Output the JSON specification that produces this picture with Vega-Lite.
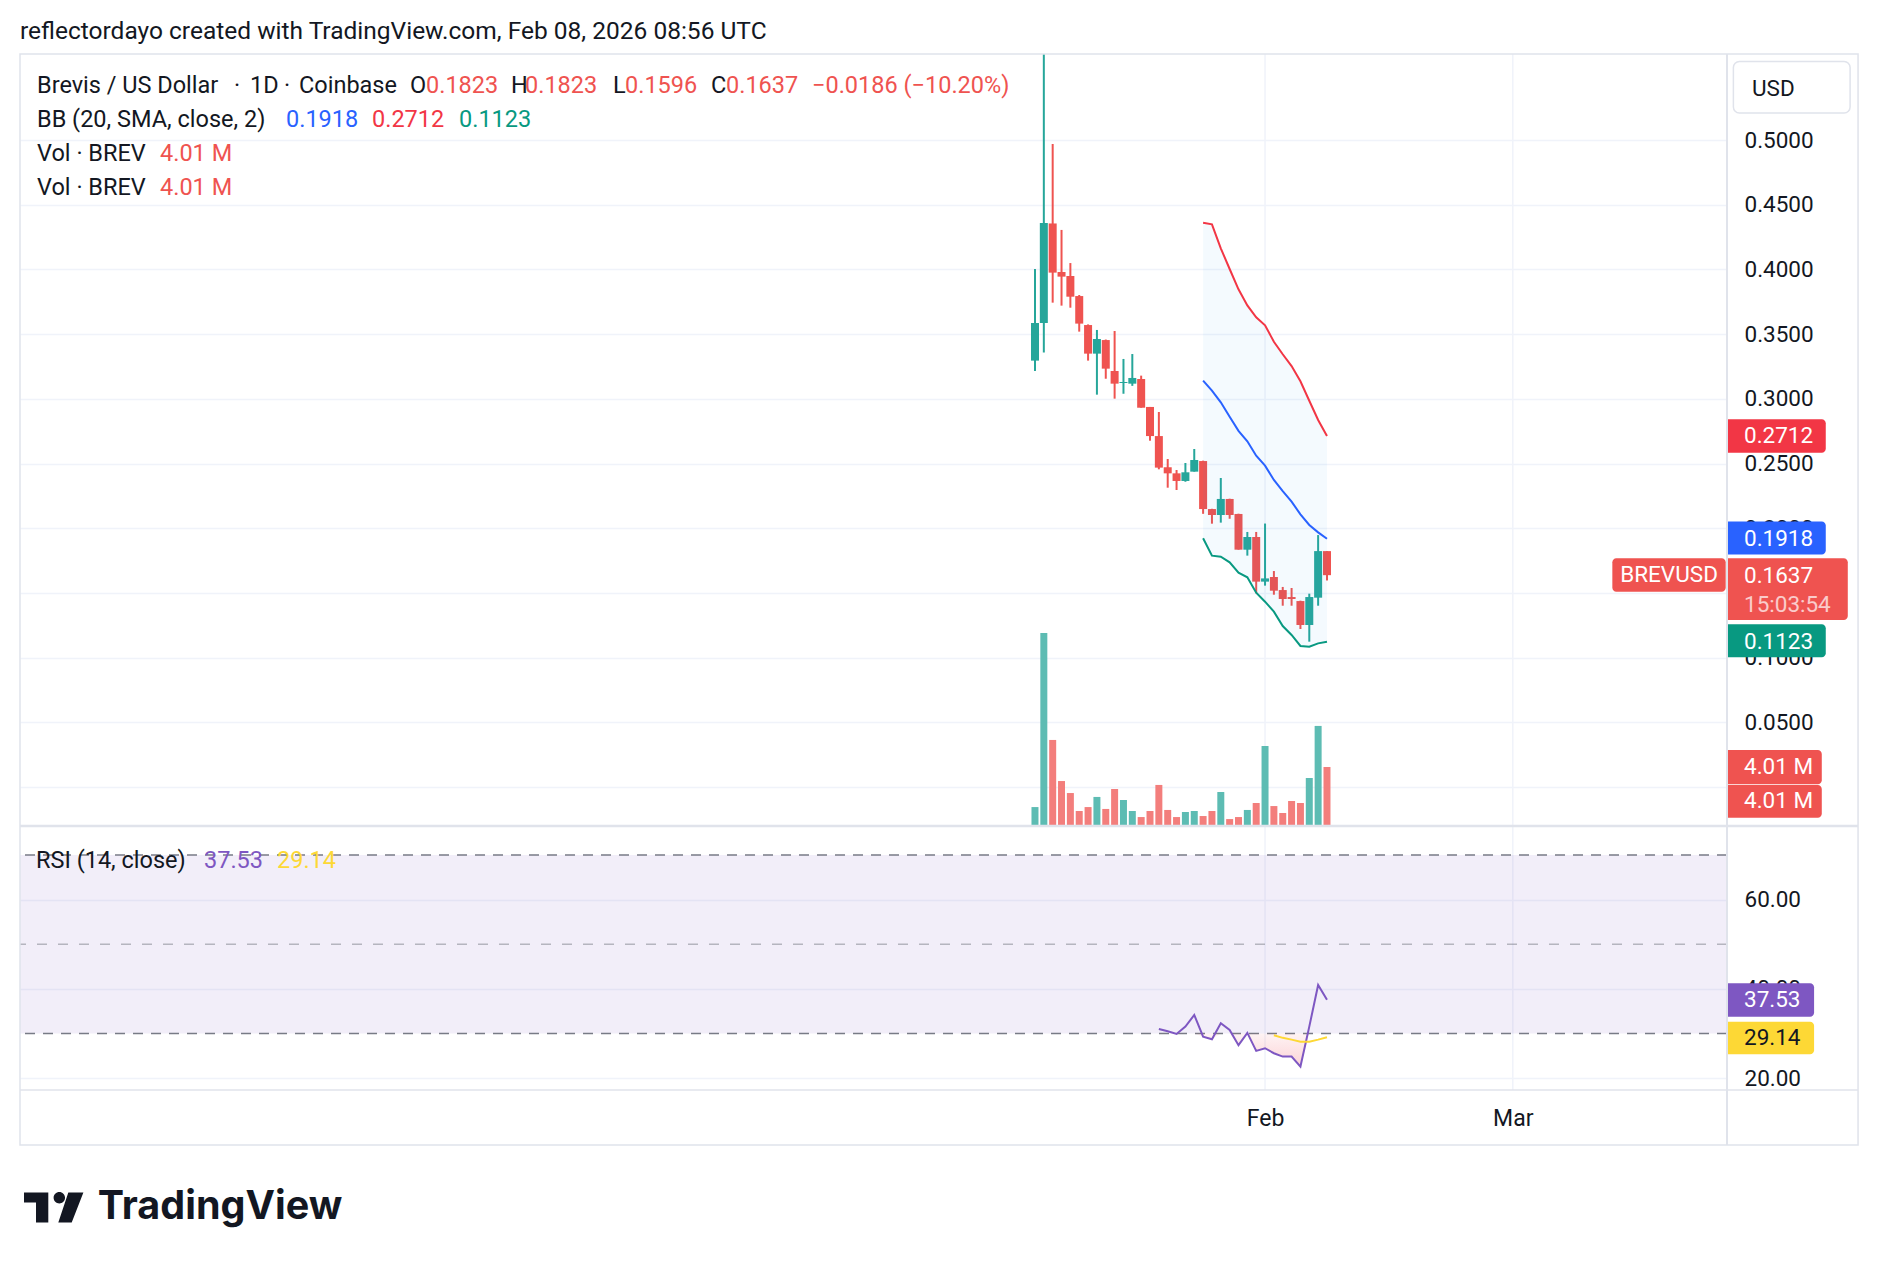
{
  "$schema": "https://vega.github.io/schema/vega-lite/v6.json",
  "width": 1707,
  "height": 1036,
  "autosize": "none",
  "padding": {"left": 20, "top": 54, "right": 151, "bottom": 176},
  "background": "#ffffff",
  "config": {
    "font": "Roboto",
    "view": {"stroke": null},
    "axis": {"domain": false, "ticks": false, "gridColor": "#F0F3FA", "gridWidth": 1.5, "labelColor": "#131722", "labelFontSize": 22.5, "labelFont": "Roboto", "labelOverlap": false},
    "text": {"font": "Roboto"}
  },
  "datasets": {
    "ohlc": [
      {"d": "2026-01-06", "o": 0.3295, "h": 0.4003, "l": 0.3215, "c": 0.3586, "v": 1.24},
      {"d": "2026-01-07", "o": 0.3586, "h": 0.58, "l": 0.3357, "c": 0.4359, "v": 13.27},
      {"d": "2026-01-08", "o": 0.4355, "h": 0.4969, "l": 0.3743, "c": 0.3975, "v": 5.88},
      {"d": "2026-01-09", "o": 0.398, "h": 0.4305, "l": 0.372, "c": 0.3944, "v": 3.04},
      {"d": "2026-01-10", "o": 0.3949, "h": 0.4049, "l": 0.3704, "c": 0.3789, "v": 2.21},
      {"d": "2026-01-11", "o": 0.3794, "h": 0.3802, "l": 0.3519, "c": 0.3581, "v": 0.97},
      {"d": "2026-01-12", "o": 0.357, "h": 0.3575, "l": 0.3295, "c": 0.3349, "v": 1.24},
      {"d": "2026-01-13", "o": 0.3349, "h": 0.3532, "l": 0.3032, "c": 0.3462, "v": 1.94},
      {"d": "2026-01-14", "o": 0.3454, "h": 0.3458, "l": 0.3155, "c": 0.3233, "v": 1.11},
      {"d": "2026-01-15", "o": 0.3215, "h": 0.3524, "l": 0.3001, "c": 0.3117, "v": 2.49},
      {"d": "2026-01-16", "o": 0.3122, "h": 0.3308, "l": 0.3039, "c": 0.313, "v": 1.73},
      {"d": "2026-01-17", "o": 0.3117, "h": 0.3346, "l": 0.31, "c": 0.3161, "v": 0.97},
      {"d": "2026-01-18", "o": 0.3153, "h": 0.3179, "l": 0.2931, "c": 0.2931, "v": 0.55},
      {"d": "2026-01-19", "o": 0.2937, "h": 0.2937, "l": 0.2676, "c": 0.2712, "v": 0.97},
      {"d": "2026-01-20", "o": 0.2712, "h": 0.2898, "l": 0.2455, "c": 0.2468, "v": 2.77},
      {"d": "2026-01-21", "o": 0.2471, "h": 0.2535, "l": 0.2313, "c": 0.2424, "v": 1.04},
      {"d": "2026-01-22", "o": 0.2424, "h": 0.245, "l": 0.2295, "c": 0.2365, "v": 0.55},
      {"d": "2026-01-23", "o": 0.2365, "h": 0.2504, "l": 0.2359, "c": 0.2432, "v": 0.9},
      {"d": "2026-01-24", "o": 0.2437, "h": 0.2612, "l": 0.2437, "c": 0.2527, "v": 0.97},
      {"d": "2026-01-25", "o": 0.2519, "h": 0.2522, "l": 0.2111, "c": 0.2148, "v": 0.62},
      {"d": "2026-01-26", "o": 0.2148, "h": 0.215, "l": 0.2035, "c": 0.2102, "v": 0.97},
      {"d": "2026-01-27", "o": 0.2102, "h": 0.2388, "l": 0.2043, "c": 0.2226, "v": 2.28},
      {"d": "2026-01-28", "o": 0.2226, "h": 0.2228, "l": 0.2073, "c": 0.2102, "v": 0.41},
      {"d": "2026-01-29", "o": 0.211, "h": 0.2112, "l": 0.1834, "c": 0.1834, "v": 0.55},
      {"d": "2026-01-30", "o": 0.1834, "h": 0.1971, "l": 0.1788, "c": 0.1932, "v": 1.04},
      {"d": "2026-01-31", "o": 0.1932, "h": 0.1971, "l": 0.1497, "c": 0.1587, "v": 1.52},
      {"d": "2026-02-01", "o": 0.1587, "h": 0.2036, "l": 0.1556, "c": 0.1612, "v": 5.46},
      {"d": "2026-02-02", "o": 0.1623, "h": 0.1669, "l": 0.1486, "c": 0.1517, "v": 1.31},
      {"d": "2026-02-03", "o": 0.1522, "h": 0.1546, "l": 0.1401, "c": 0.1453, "v": 0.83},
      {"d": "2026-02-04", "o": 0.1468, "h": 0.1538, "l": 0.1401, "c": 0.1453, "v": 1.66},
      {"d": "2026-02-05", "o": 0.1437, "h": 0.144, "l": 0.1221, "c": 0.1252, "v": 1.52},
      {"d": "2026-02-06", "o": 0.1252, "h": 0.1494, "l": 0.1123, "c": 0.1468, "v": 3.25},
      {"d": "2026-02-07", "o": 0.1463, "h": 0.1947, "l": 0.1401, "c": 0.1823, "v": 6.85},
      {"d": "2026-02-08", "o": 0.1823, "h": 0.1823, "l": 0.1596, "c": 0.1637, "v": 4.01}
    ],
    "bb": [
      {"d": "2026-01-25", "up": 0.4361, "mid": 0.314, "lo": 0.1922},
      {"d": "2026-01-26", "up": 0.4348, "mid": 0.3063, "lo": 0.1788},
      {"d": "2026-01-27", "up": 0.4163, "mid": 0.2973, "lo": 0.178},
      {"d": "2026-01-28", "up": 0.4003, "mid": 0.2862, "lo": 0.1736},
      {"d": "2026-01-29", "up": 0.3846, "mid": 0.2752, "lo": 0.1656},
      {"d": "2026-01-30", "up": 0.3722, "mid": 0.2672, "lo": 0.162},
      {"d": "2026-01-31", "up": 0.363, "mid": 0.256, "lo": 0.1502},
      {"d": "2026-02-01", "up": 0.3568, "mid": 0.2483, "lo": 0.1432},
      {"d": "2026-02-02", "up": 0.3441, "mid": 0.2373, "lo": 0.1355},
      {"d": "2026-02-03", "up": 0.3344, "mid": 0.2287, "lo": 0.1244},
      {"d": "2026-02-04", "up": 0.3253, "mid": 0.2205, "lo": 0.1175},
      {"d": "2026-02-05", "up": 0.3135, "mid": 0.2107, "lo": 0.109},
      {"d": "2026-02-06", "up": 0.2985, "mid": 0.2025, "lo": 0.1084},
      {"d": "2026-02-07", "up": 0.2836, "mid": 0.1968, "lo": 0.111},
      {"d": "2026-02-08", "up": 0.2712, "mid": 0.1918, "lo": 0.1123}
    ],
    "rsi": [
      {"d": "2026-01-20", "rsi": 31.0, "os": 30},
      {"d": "2026-01-21", "rsi": 30.48, "os": 30},
      {"d": "2026-01-22", "rsi": 29.88, "os": 29.88},
      {"d": "2026-01-23", "rsi": 31.51, "os": 30},
      {"d": "2026-01-24", "rsi": 34.13, "os": 30},
      {"d": "2026-01-25", "rsi": 29.27, "os": 29.27},
      {"d": "2026-01-26", "rsi": 28.69, "os": 28.69},
      {"d": "2026-01-27", "rsi": 32.27, "os": 30},
      {"d": "2026-01-28", "rsi": 30.77, "os": 30},
      {"d": "2026-01-29", "rsi": 27.35, "os": 27.35},
      {"d": "2026-01-30", "rsi": 30.1, "os": 30},
      {"d": "2026-01-31", "rsi": 26.07, "os": 26.07},
      {"d": "2026-02-01", "rsi": 26.67, "os": 26.67},
      {"d": "2026-02-02", "rsi": 25.55, "os": 25.55, "ma": 29.59},
      {"d": "2026-02-03", "rsi": 24.8, "os": 24.8, "ma": 29.0},
      {"d": "2026-02-04", "rsi": 24.8, "os": 24.8, "ma": 28.6},
      {"d": "2026-02-05", "rsi": 22.56, "os": 22.56, "ma": 28.15},
      {"d": "2026-02-06", "rsi": 31.51, "os": 30, "ma": 28.15},
      {"d": "2026-02-07", "rsi": 40.85, "os": 30, "ma": 28.6},
      {"d": "2026-02-08", "rsi": 37.53, "os": 30, "ma": 29.14}
    ]
  },
  "layer": [
    {
      "layer": [
        {
          "data": {"values": [{}]},
          "layer": [
            {"mark": {"type": "rule", "color": "#F0F3FA", "strokeWidth": 1.5},
             "encoding": {"x": {"datum": {"year": 2026, "month": 2, "date": 1, "utc": true}, "type": "temporal"}}},
            {"mark": {"type": "rule", "color": "#F0F3FA", "strokeWidth": 1.5},
             "encoding": {"x": {"datum": {"year": 2026, "month": 3, "date": 1, "utc": true}, "type": "temporal"}}}
          ]
        },
        {
          "data": {"name": "ohlc"},
          "mark": {"type": "bar", "width": 7},
          "encoding": {
            "x": {"field": "d", "type": "temporal", "title": null,
              "scale": {"type": "utc", "nice": false, "padding": 0, "domain": [{"year": 2025, "month": 9, "date": 13, "hours": 7, "utc": true}, {"year": 2026, "month": 3, "date": 25, "hours": 5, "utc": true}]},
              "axis": {"values": [{"year": 2026, "month": 2, "date": 1, "utc": true}, {"year": 2026, "month": 3, "date": 1, "utc": true}], "labelExpr": "utcFormat(datum.value, '%b')", "grid": false, "labelPadding": 28, "labelBaseline": "middle", "labelFontSize": 23, "title": null}},
            "y": {"field": "v", "type": "quantitative", "title": null, "scale": {"domain": [0, 4.01], "range": [771, 713], "zero": false, "nice": false}, "axis": null},
            "color": {"condition": {"test": "datum.c >= datum.o", "value": "#5DBCB3"}, "value": "#F37E7C"}
          }
        },
        {
          "data": {"values": [{}]},
          "layer": [
            {"mark": {"type": "rect", "color": "#EF5350", "cornerRadiusTopRight": 4, "cornerRadiusBottomRight": 4},
             "encoding": {"x": {"datum": {"year": 2026, "month": 3, "date": 25, "hours": 5, "utc": true}, "type": "temporal"}, "x2": {"datum": {"year": 2026, "month": 4, "date": 4, "hours": 22, "minutes": 5, "utc": true}}, "y": {"datum": 5.185, "type": "quantitative"}, "y2": {"datum": 2.814}}},
            {"mark": {"type": "rect", "color": "#EF5350", "cornerRadiusTopRight": 4, "cornerRadiusBottomRight": 4},
             "encoding": {"x": {"datum": {"year": 2026, "month": 3, "date": 25, "hours": 5, "utc": true}, "type": "temporal"}, "x2": {"datum": {"year": 2026, "month": 4, "date": 4, "hours": 22, "minutes": 5, "utc": true}}, "y": {"datum": 2.766, "type": "quantitative"}, "y2": {"datum": 0.505}}},
            {"mark": {"type": "text", "text": "4.01 M", "color": "#ffffff", "align": "left", "baseline": "middle", "dx": 17, "fontSize": 22.5},
             "encoding": {"x": {"datum": {"year": 2026, "month": 3, "date": 25, "hours": 5, "utc": true}, "type": "temporal"}, "y": {"datum": 4.01, "type": "quantitative"}}},
            {"mark": {"type": "text", "text": "4.01 M", "color": "#ffffff", "align": "left", "baseline": "middle", "dx": 17, "fontSize": 22.5},
             "encoding": {"x": {"datum": {"year": 2026, "month": 3, "date": 25, "hours": 5, "utc": true}, "type": "temporal"}, "y": {"datum": 1.639, "type": "quantitative"}}}
          ]
        }
      ]
    },
    {
      "layer": [
        {
          "data": {"name": "ohlc"},
          "layer": [
            {"mark": {"type": "rule", "strokeWidth": 2, "clip": true},
             "encoding": {
               "x": {"field": "d", "type": "temporal", "title": null},
               "y": {"field": "l", "type": "quantitative", "title": null,
                 "scale": {"domain": [0, 0.5], "range": [733, 86], "zero": false, "nice": false},
                 "axis": {"orient": "right", "values": [0, 0.05, 0.1, 0.15, 0.2, 0.25, 0.3, 0.35, 0.4, 0.45, 0.5, 0.55], "format": ".4f", "labelPadding": 17, "labelAlign": "left", "grid": true, "title": null, "labelExpr": "datum.value < 0.01 || datum.value > 0.52 ? '' : datum.label"}},
               "y2": {"field": "h"},
               "color": {"condition": {"test": "datum.c >= datum.o", "value": "#26A69A"}, "value": "#EF5350"}
             }},
            {"mark": {"type": "bar", "width": 8},
             "encoding": {
               "x": {"field": "d", "type": "temporal", "title": null},
               "y": {"field": "o", "type": "quantitative", "title": null},
               "y2": {"field": "c"},
               "color": {"condition": {"test": "datum.c >= datum.o", "value": "#26A69A"}, "value": "#EF5350"}
             }}
          ]
        },
        {
          "data": {"name": "bb"},
          "layer": [
            {"mark": {"type": "area", "color": "#2196F3", "opacity": 0.05},
             "encoding": {"x": {"field": "d", "type": "temporal", "title": null}, "y": {"field": "up", "type": "quantitative", "title": null}, "y2": {"field": "lo"}}},
            {"mark": {"type": "line", "color": "#F23645", "strokeWidth": 2},
             "encoding": {"x": {"field": "d", "type": "temporal", "title": null}, "y": {"field": "up", "type": "quantitative", "title": null}}},
            {"mark": {"type": "line", "color": "#2962FF", "strokeWidth": 2},
             "encoding": {"x": {"field": "d", "type": "temporal", "title": null}, "y": {"field": "mid", "type": "quantitative", "title": null}}},
            {"mark": {"type": "line", "color": "#089981", "strokeWidth": 2},
             "encoding": {"x": {"field": "d", "type": "temporal", "title": null}, "y": {"field": "lo", "type": "quantitative", "title": null}}}
          ]
        },
        {
          "data": {"values": [{}]},
          "encoding": {"x": {"datum": {"year": 2025, "month": 9, "date": 13, "hours": 7, "utc": true}, "type": "temporal"}},
          "layer": [
            {"mark": {"type": "text", "text": "reflectordayo created with TradingView.com, Feb 08, 2026 08:56 UTC", "color": "#131722", "align": "left", "baseline": "middle", "dx": 0, "fontSize": 24.5}, "encoding": {"y": {"datum": 0.5831, "type": "quantitative"}}},
            {"mark": {"type": "text", "text": "Brevis / US Dollar", "color": "#131722", "align": "left", "baseline": "middle", "dx": 17, "fontSize": 23.5}, "encoding": {"y": {"datum": 0.5415, "type": "quantitative"}}},
            {"mark": {"type": "text", "text": "·", "color": "#131722", "align": "left", "baseline": "middle", "dx": 214, "fontSize": 23.5}, "encoding": {"y": {"datum": 0.5415, "type": "quantitative"}}},
            {"mark": {"type": "text", "text": "1D", "color": "#131722", "align": "left", "baseline": "middle", "dx": 230, "fontSize": 23.5}, "encoding": {"y": {"datum": 0.5415, "type": "quantitative"}}},
            {"mark": {"type": "text", "text": "·", "color": "#131722", "align": "left", "baseline": "middle", "dx": 264, "fontSize": 23.5}, "encoding": {"y": {"datum": 0.5415, "type": "quantitative"}}},
            {"mark": {"type": "text", "text": "Coinbase", "color": "#131722", "align": "left", "baseline": "middle", "dx": 279, "fontSize": 23.5}, "encoding": {"y": {"datum": 0.5415, "type": "quantitative"}}},
            {"mark": {"type": "text", "text": "O", "color": "#131722", "align": "left", "baseline": "middle", "dx": 390, "fontSize": 23.5}, "encoding": {"y": {"datum": 0.5415, "type": "quantitative"}}},
            {"mark": {"type": "text", "text": "0.1823", "color": "#EF5350", "align": "left", "baseline": "middle", "dx": 406, "fontSize": 23.5}, "encoding": {"y": {"datum": 0.5415, "type": "quantitative"}}},
            {"mark": {"type": "text", "text": "H", "color": "#131722", "align": "left", "baseline": "middle", "dx": 491, "fontSize": 23.5}, "encoding": {"y": {"datum": 0.5415, "type": "quantitative"}}},
            {"mark": {"type": "text", "text": "0.1823", "color": "#EF5350", "align": "left", "baseline": "middle", "dx": 505, "fontSize": 23.5}, "encoding": {"y": {"datum": 0.5415, "type": "quantitative"}}},
            {"mark": {"type": "text", "text": "L", "color": "#131722", "align": "left", "baseline": "middle", "dx": 593, "fontSize": 23.5}, "encoding": {"y": {"datum": 0.5415, "type": "quantitative"}}},
            {"mark": {"type": "text", "text": "0.1596", "color": "#EF5350", "align": "left", "baseline": "middle", "dx": 605, "fontSize": 23.5}, "encoding": {"y": {"datum": 0.5415, "type": "quantitative"}}},
            {"mark": {"type": "text", "text": "C", "color": "#131722", "align": "left", "baseline": "middle", "dx": 691, "fontSize": 23.5}, "encoding": {"y": {"datum": 0.5415, "type": "quantitative"}}},
            {"mark": {"type": "text", "text": "0.1637", "color": "#EF5350", "align": "left", "baseline": "middle", "dx": 706, "fontSize": 23.5}, "encoding": {"y": {"datum": 0.5415, "type": "quantitative"}}},
            {"mark": {"type": "text", "text": "−0.0186 (−10.20%)", "color": "#EF5350", "align": "left", "baseline": "middle", "dx": 792, "fontSize": 23.5}, "encoding": {"y": {"datum": 0.5415, "type": "quantitative"}}},
            {"mark": {"type": "text", "text": "BB (20, SMA, close, 2)", "color": "#131722", "align": "left", "baseline": "middle", "dx": 17, "fontSize": 23.5}, "encoding": {"y": {"datum": 0.5156, "type": "quantitative"}}},
            {"mark": {"type": "text", "text": "0.1918", "color": "#2962FF", "align": "left", "baseline": "middle", "dx": 266, "fontSize": 23.5}, "encoding": {"y": {"datum": 0.5156, "type": "quantitative"}}},
            {"mark": {"type": "text", "text": "0.2712", "color": "#F23645", "align": "left", "baseline": "middle", "dx": 352, "fontSize": 23.5}, "encoding": {"y": {"datum": 0.5156, "type": "quantitative"}}},
            {"mark": {"type": "text", "text": "0.1123", "color": "#089981", "align": "left", "baseline": "middle", "dx": 439, "fontSize": 23.5}, "encoding": {"y": {"datum": 0.5156, "type": "quantitative"}}},
            {"mark": {"type": "text", "text": "Vol · BREV", "color": "#131722", "align": "left", "baseline": "middle", "dx": 17, "fontSize": 23.5}, "encoding": {"y": {"datum": 0.4888, "type": "quantitative"}}},
            {"mark": {"type": "text", "text": "4.01 M", "color": "#EF5350", "align": "left", "baseline": "middle", "dx": 140, "fontSize": 23.5}, "encoding": {"y": {"datum": 0.4888, "type": "quantitative"}}},
            {"mark": {"type": "text", "text": "Vol · BREV", "color": "#131722", "align": "left", "baseline": "middle", "dx": 17, "fontSize": 23.5}, "encoding": {"y": {"datum": 0.4629, "type": "quantitative"}}},
            {"mark": {"type": "text", "text": "4.01 M", "color": "#EF5350", "align": "left", "baseline": "middle", "dx": 140, "fontSize": 23.5}, "encoding": {"y": {"datum": 0.4629, "type": "quantitative"}}}
          ]
        },
        {
          "data": {"values": [{}]},
          "layer": [
            {"mark": {"type": "rect", "fill": "#ffffff", "stroke": "#E0E3EB", "strokeWidth": 1.5, "cornerRadius": 6},
             "encoding": {"x": {"datum": {"year": 2026, "month": 3, "date": 25, "hours": 22, "minutes": 19, "utc": true}, "type": "temporal"}, "x2": {"datum": {"year": 2026, "month": 4, "date": 8, "hours": 2, "minutes": 53, "utc": true}}, "y": {"datum": 0.5607, "type": "quantitative"}, "y2": {"datum": 0.5208}}},
            {"mark": {"type": "text", "text": "USD", "color": "#131722", "align": "left", "baseline": "middle", "dx": 25, "fontSize": 22.5},
             "encoding": {"x": {"datum": {"year": 2026, "month": 3, "date": 25, "hours": 5, "utc": true}, "type": "temporal"}, "y": {"datum": 0.5393, "type": "quantitative"}}},
            {"mark": {"type": "rect", "color": "#F23645", "cornerRadiusTopRight": 4, "cornerRadiusBottomRight": 4},
             "encoding": {"x": {"datum": {"year": 2026, "month": 3, "date": 25, "hours": 5, "utc": true}, "type": "temporal"}, "x2": {"datum": {"year": 2026, "month": 4, "date": 5, "hours": 8, "minutes": 53, "utc": true}}, "y": {"datum": 0.2842, "type": "quantitative"}, "y2": {"datum": 0.2584}}},
            {"mark": {"type": "text", "text": "0.2712", "color": "#ffffff", "align": "left", "baseline": "middle", "dx": 17, "fontSize": 22.5},
             "encoding": {"x": {"datum": {"year": 2026, "month": 3, "date": 25, "hours": 5, "utc": true}, "type": "temporal"}, "y": {"datum": 0.2712, "type": "quantitative"}}},
            {"mark": {"type": "rect", "color": "#2962FF", "cornerRadiusTopRight": 4, "cornerRadiusBottomRight": 4},
             "encoding": {"x": {"datum": {"year": 2026, "month": 3, "date": 25, "hours": 5, "utc": true}, "type": "temporal"}, "x2": {"datum": {"year": 2026, "month": 4, "date": 5, "hours": 8, "minutes": 53, "utc": true}}, "y": {"datum": 0.2052, "type": "quantitative"}, "y2": {"datum": 0.1797}}},
            {"mark": {"type": "text", "text": "0.1918", "color": "#ffffff", "align": "left", "baseline": "middle", "dx": 17, "fontSize": 22.5},
             "encoding": {"x": {"datum": {"year": 2026, "month": 3, "date": 25, "hours": 5, "utc": true}, "type": "temporal"}, "y": {"datum": 0.1918, "type": "quantitative"}}},
            {"mark": {"type": "rect", "color": "#EF5350", "cornerRadiusTopRight": 4, "cornerRadiusBottomRight": 4},
             "encoding": {"x": {"datum": {"year": 2026, "month": 3, "date": 25, "hours": 5, "utc": true}, "type": "temporal"}, "x2": {"datum": {"year": 2026, "month": 4, "date": 7, "hours": 20, "minutes": 38, "utc": true}}, "y": {"datum": 0.1767, "type": "quantitative"}, "y2": {"datum": 0.1291}}},
            {"mark": {"type": "text", "text": "0.1637", "color": "#ffffff", "align": "left", "baseline": "middle", "dx": 17, "fontSize": 22.5},
             "encoding": {"x": {"datum": {"year": 2026, "month": 3, "date": 25, "hours": 5, "utc": true}, "type": "temporal"}, "y": {"datum": 0.1631, "type": "quantitative"}}},
            {"mark": {"type": "text", "text": "15:03:54", "color": "#ffffff", "opacity": 0.7, "align": "left", "baseline": "middle", "dx": 17, "fontSize": 22.5},
             "encoding": {"x": {"datum": {"year": 2026, "month": 3, "date": 25, "hours": 5, "utc": true}, "type": "temporal"}, "y": {"datum": 0.1406, "type": "quantitative"}}},
            {"mark": {"type": "rect", "color": "#EF5350", "cornerRadius": 4},
             "encoding": {"x": {"datum": {"year": 2026, "month": 3, "date": 12, "hours": 6, "utc": true}, "type": "temporal"}, "x2": {"datum": {"year": 2026, "month": 3, "date": 25, "hours": 1, "minutes": 26, "utc": true}}, "y": {"datum": 0.1767, "type": "quantitative"}, "y2": {"datum": 0.1509}}},
            {"mark": {"type": "text", "text": "BREVUSD", "color": "#ffffff", "align": "center", "baseline": "middle", "fontSize": 22.5},
             "encoding": {"x": {"datum": {"year": 2026, "month": 3, "date": 18, "hours": 15, "minutes": 50, "utc": true}, "type": "temporal"}, "y": {"datum": 0.1638, "type": "quantitative"}}},
            {"mark": {"type": "rect", "color": "#089981", "cornerRadiusTopRight": 4, "cornerRadiusBottomRight": 4},
             "encoding": {"x": {"datum": {"year": 2026, "month": 3, "date": 25, "hours": 5, "utc": true}, "type": "temporal"}, "x2": {"datum": {"year": 2026, "month": 4, "date": 5, "hours": 8, "minutes": 53, "utc": true}}, "y": {"datum": 0.1257, "type": "quantitative"}, "y2": {"datum": 0.1002}}},
            {"mark": {"type": "text", "text": "0.1123", "color": "#ffffff", "align": "left", "baseline": "middle", "dx": 17, "fontSize": 22.5},
             "encoding": {"x": {"datum": {"year": 2026, "month": 3, "date": 25, "hours": 5, "utc": true}, "type": "temporal"}, "y": {"datum": 0.1123, "type": "quantitative"}}}
          ]
        }
      ]
    },
    {
      "layer": [
        {
          "data": {"values": [{}]},
          "layer": [
            {"mark": {"type": "rect", "color": "#7E57C2", "opacity": 0.1},
             "encoding": {"x": {"datum": {"year": 2025, "month": 9, "date": 13, "hours": 7, "utc": true}, "type": "temporal"}, "x2": {"datum": {"year": 2026, "month": 3, "date": 25, "hours": 5, "utc": true}}, "y": {"datum": 70, "type": "quantitative"}, "y2": {"datum": 30}}},
            {"mark": {"type": "rule", "color": "#787B86", "strokeWidth": 1.5, "strokeDash": [10, 8]},
             "encoding": {"y": {"datum": 70, "type": "quantitative"}}},
            {"mark": {"type": "rule", "color": "#787B86", "opacity": 0.5, "strokeWidth": 1.5, "strokeDash": [10, 11]},
             "encoding": {"y": {"datum": 50, "type": "quantitative"}}},
            {"mark": {"type": "rule", "color": "#787B86", "strokeWidth": 1.5, "strokeDash": [10, 8]},
             "encoding": {"y": {"datum": 30, "type": "quantitative"}}}
          ]
        },
        {
          "data": {"name": "rsi"},
          "layer": [
            {"mark": {"type": "area", "color": {"gradient": "linear", "x1": 0, "y1": 0, "x2": 0, "y2": 1, "stops": [{"offset": 0, "color": "rgba(242,54,69,0.06)"}, {"offset": 1, "color": "rgba(242,54,69,0.22)"}]}},
             "encoding": {"x": {"field": "d", "type": "temporal", "title": null}, "y": {"field": "os", "type": "quantitative", "title": null}, "y2": {"datum": 30}}},
            {"mark": {"type": "line", "color": "#7E57C2", "strokeWidth": 2},
             "encoding": {
               "x": {"field": "d", "type": "temporal", "title": null},
               "y": {"field": "rsi", "type": "quantitative", "title": null,
                 "scale": {"domain": [20, 60], "range": [1024, 845.5], "zero": false, "nice": false},
                 "axis": {"orient": "right", "values": [20, 40, 60], "format": ".2f", "labelPadding": 17, "labelAlign": "left", "grid": true, "title": null}}
             }},
            {"mark": {"type": "line", "color": "#FDD835", "strokeWidth": 2},
             "encoding": {"x": {"field": "d", "type": "temporal", "title": null}, "y": {"field": "ma", "type": "quantitative", "title": null}}}
          ]
        },
        {
          "data": {"values": [{}]},
          "layer": [
            {"mark": {"type": "text", "text": "RSI (14, close)", "color": "#131722", "align": "left", "baseline": "middle", "dx": 16, "fontSize": 23.5},
             "encoding": {"x": {"datum": {"year": 2025, "month": 9, "date": 13, "hours": 7, "utc": true}, "type": "temporal"}, "y": {"datum": 68.69, "type": "quantitative"}}},
            {"mark": {"type": "text", "text": "37.53", "color": "#7E57C2", "align": "left", "baseline": "middle", "dx": 184, "fontSize": 23.5},
             "encoding": {"x": {"datum": {"year": 2025, "month": 9, "date": 13, "hours": 7, "utc": true}, "type": "temporal"}, "y": {"datum": 68.69, "type": "quantitative"}}},
            {"mark": {"type": "text", "text": "29.14", "color": "#FDD835", "align": "left", "baseline": "middle", "dx": 257, "fontSize": 23.5},
             "encoding": {"x": {"datum": {"year": 2025, "month": 9, "date": 13, "hours": 7, "utc": true}, "type": "temporal"}, "y": {"datum": 68.69, "type": "quantitative"}}},
            {"mark": {"type": "rect", "color": "#7E57C2", "cornerRadiusTopRight": 4, "cornerRadiusBottomRight": 4},
             "encoding": {"x": {"datum": {"year": 2026, "month": 3, "date": 25, "hours": 5, "utc": true}, "type": "temporal"}, "x2": {"datum": {"year": 2026, "month": 4, "date": 4, "hours": 1, "minutes": 12, "utc": true}}, "y": {"datum": 41.22, "type": "quantitative"}, "y2": {"datum": 33.74}}},
            {"mark": {"type": "text", "text": "37.53", "color": "#ffffff", "align": "left", "baseline": "middle", "dx": 17, "fontSize": 22.5},
             "encoding": {"x": {"datum": {"year": 2026, "month": 3, "date": 25, "hours": 5, "utc": true}, "type": "temporal"}, "y": {"datum": 37.53, "type": "quantitative"}}},
            {"mark": {"type": "rect", "color": "#FDD835", "cornerRadiusTopRight": 4, "cornerRadiusBottomRight": 4},
             "encoding": {"x": {"datum": {"year": 2026, "month": 3, "date": 25, "hours": 5, "utc": true}, "type": "temporal"}, "x2": {"datum": {"year": 2026, "month": 4, "date": 4, "hours": 1, "minutes": 12, "utc": true}}, "y": {"datum": 32.62, "type": "quantitative"}, "y2": {"datum": 25.31}}},
            {"mark": {"type": "text", "text": "29.14", "color": "#131722", "align": "left", "baseline": "middle", "dx": 17, "fontSize": 22.5},
             "encoding": {"x": {"datum": {"year": 2026, "month": 3, "date": 25, "hours": 5, "utc": true}, "type": "temporal"}, "y": {"datum": 29.0, "type": "quantitative"}}},
            {"mark": {"type": "rect", "filled": false, "stroke": "#E0E3EB", "strokeWidth": 1.5},
             "encoding": {"x": {"datum": {"year": 2025, "month": 9, "date": 13, "hours": 7, "utc": true}, "type": "temporal"}, "x2": {"datum": {"year": 2026, "month": 4, "date": 9, "hours": 0, "minutes": 29, "utc": true}}, "y": {"datum": 249.47, "type": "quantitative"}, "y2": {"datum": 4.99}}},
            {"mark": {"type": "rule", "color": "#E0E3EB", "strokeWidth": 2.5},
             "encoding": {"x": {"datum": {"year": 2025, "month": 9, "date": 13, "hours": 7, "utc": true}, "type": "temporal"}, "x2": {"datum": {"year": 2026, "month": 4, "date": 9, "hours": 0, "minutes": 29, "utc": true}}, "y": {"datum": 76.47, "type": "quantitative"}}},
            {"mark": {"type": "rule", "color": "#E0E3EB", "strokeWidth": 1.5},
             "encoding": {"x": {"datum": {"year": 2025, "month": 9, "date": 13, "hours": 7, "utc": true}, "type": "temporal"}, "x2": {"datum": {"year": 2026, "month": 4, "date": 9, "hours": 0, "minutes": 29, "utc": true}}, "y": {"datum": 17.31, "type": "quantitative"}}},
            {"mark": {"type": "rule", "color": "#E0E3EB", "strokeWidth": 2},
             "encoding": {"x": {"datum": {"year": 2026, "month": 3, "date": 25, "hours": 5, "utc": true}, "type": "temporal"}, "y": {"datum": 249.47, "type": "quantitative"}, "y2": {"datum": 4.99}}},
            {"mark": {"type": "point", "filled": true, "opacity": 1, "color": "#131722", "size": 3528, "shape": "M-1,-0.505H-0.182V0.505H-0.596V-0.168H-1Z M-0.003,-0.327A0.192,0.192,0,1,0,0.381,-0.327A0.192,0.192,0,1,0,-0.003,-0.327Z M0.492,-0.505L1,-0.505L0.606,0.505L0.155,0.505Z"},
             "encoding": {"x": {"datum": {"year": 2025, "month": 9, "date": 17, "hours": 2, "minutes": 25, "utc": true}, "type": "temporal"}, "y": {"datum": -9.0, "type": "quantitative"}}},
            {"mark": {"type": "text", "text": "TradingView", "font": "Inter", "fontWeight": 700, "color": "#131722", "align": "left", "baseline": "middle", "dx": 77.7, "fontSize": 39.5},
             "encoding": {"x": {"datum": {"year": 2025, "month": 9, "date": 13, "hours": 7, "utc": true}, "type": "temporal"}, "y": {"datum": -9.0, "type": "quantitative"}}}
          ]
        }
      ]
    }
  ],
  "resolve": {"scale": {"y": "independent"}}
}
